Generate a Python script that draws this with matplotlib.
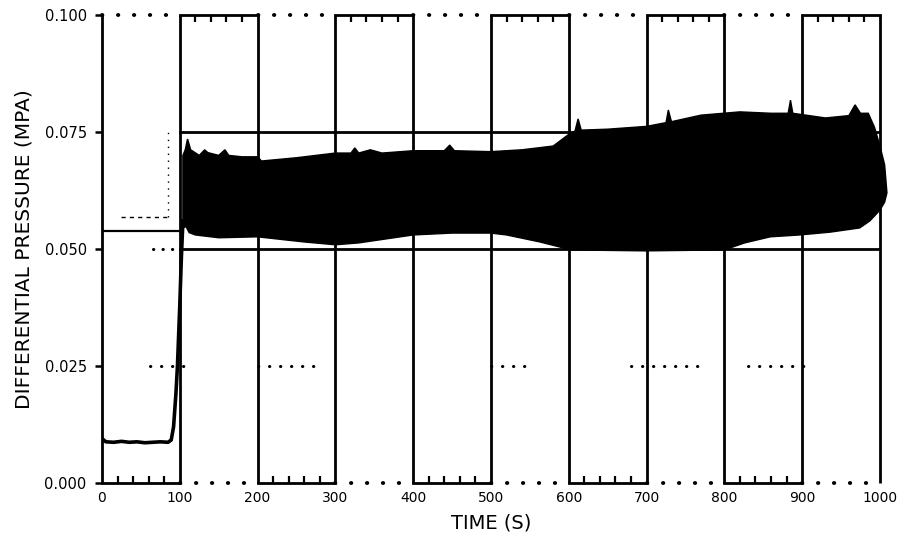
import numpy as np
import matplotlib
matplotlib.use("Agg")
import matplotlib.pyplot as plt

# ---------------- data ----------------
x_ticks = [0, 100, 200, 300, 400, 500, 600, 700, 800, 900, 1000]
x_tick_labels = ["0", "100", "200", "300", "400", "500", "600", "700", "800", "900", "1000"]
y_ticks = [0.0, 0.025, 0.050, 0.075, 0.100]
y_tick_labels = ["0.000", "0.025", "0.050", "0.075", "0.100"]

# initial steady level and rise (s, MPa)
t_start = [0, 5, 15, 25, 35, 45, 55, 65, 75, 85, 89, 92, 95, 97, 100, 102, 104]
p_start = [0.0095, 0.0088, 0.0087, 0.0089, 0.0087, 0.0088, 0.0086, 0.0087, 0.0088,
           0.0087, 0.0092, 0.0120, 0.0190, 0.0250, 0.0380, 0.0480, 0.0560]

# upper envelope of the oscillating band
t_upper = [104, 107, 110, 114, 125, 132, 136, 150, 158, 163, 180, 200, 205, 250, 300,
           320, 325, 330, 345, 360, 400, 440, 447, 453, 500, 540, 580, 600, 608, 612,
           616, 650, 700, 725, 728, 732, 770, 820, 860, 882, 885, 888, 930, 960, 968,
           975, 985, 993, 1000, 1006, 1009]
p_upper = [0.0700, 0.0712, 0.0735, 0.0712, 0.0700, 0.0712, 0.0706, 0.0700, 0.0712, 0.0700,
           0.0697, 0.0697, 0.0688, 0.0695, 0.0705, 0.0705, 0.0716, 0.0705, 0.0712, 0.0705,
           0.0710, 0.0710, 0.0722, 0.0710, 0.0708, 0.0712, 0.0720, 0.0745, 0.0752, 0.0778,
           0.0754, 0.0756, 0.0762, 0.0770, 0.0797, 0.0772, 0.0786, 0.0793, 0.0790, 0.0790,
           0.0818, 0.0790, 0.0780, 0.0785, 0.0808, 0.0790, 0.0790, 0.0760, 0.0720, 0.0680,
           0.0620]

# lower envelope of the oscillating band
t_lower = [104, 108, 112, 120, 150, 200, 260, 300, 330, 400, 450, 500, 520, 563, 589,
           600, 700, 800, 826, 859, 897, 936, 974, 987, 1000, 1006, 1009]
p_lower = [0.0545, 0.0548, 0.0535, 0.0530, 0.0524, 0.0526, 0.0515, 0.0509, 0.0513, 0.0530,
           0.0534, 0.0534, 0.0530, 0.0515, 0.0504, 0.0498, 0.0496, 0.0498, 0.0513, 0.0526,
           0.0530, 0.0536, 0.0545, 0.0560, 0.0583, 0.0600, 0.0620]

# reference lines
ref_levels = [0.050, 0.075]          # solid, from 100 s to 1000 s
left_level = 0.0538                  # solid, from 0 to 100 s
dotted_025 = [(62, 116), (200, 272), (500, 548), (680, 775), (830, 905)]
minor_step = 20

# ---------------- figure ----------------
fig = plt.figure(figsize=(8.97, 5.47), dpi=100)
ax = fig.add_axes([0.1137, 0.117, 0.8673, 0.8556])
ax.set_xlim(0, 1000)
ax.set_ylim(0, 0.1)
for s in ax.spines.values():
    s.set_visible(False)

LW = 2.0
dot_style = dict(color="black", lw=2.8, linestyle=(0, (0.1, 4.0)),
                 dash_capstyle="round", solid_capstyle="round", clip_on=False)

# vertical frame lines
for xv in x_ticks:
    ax.plot([xv, xv], [0, 0.1], color="black", lw=LW, clip_on=False,
            solid_capstyle="butt")

# top and bottom edges: alternate solid / dotted, small ticks on solid parts
for i in range(len(x_ticks) - 1):
    a, b = x_ticks[i], x_ticks[i + 1]
    inner = np.arange(a + minor_step, b, minor_step)
    if i % 2 == 0:
        ax.plot([a, b], [0, 0], color="black", lw=LW, clip_on=False)
        ax.plot(inner, np.zeros_like(inner, dtype=float), linestyle="none",
                marker=2, markersize=5, mew=1.6, color="black", clip_on=False)
        ax.plot([a, b], [0.1, 0.1], **dot_style)
    else:
        ax.plot([a, b], [0.1, 0.1], color="black", lw=LW, clip_on=False)
        ax.plot(inner, np.full(len(inner), 0.1), linestyle="none",
                marker=3, markersize=5, mew=1.6, color="black", clip_on=False)
        ax.plot([a, b], [0, 0], **dot_style)

# horizontal reference lines
for lv in ref_levels:
    ax.plot([x_ticks[1], x_ticks[-1]], [lv, lv], color="black", lw=LW)
ax.plot([x_ticks[0], x_ticks[1]], [left_level, left_level], color="black", lw=1.6)

# faint dotted features
for a, b in dotted_025:
    ax.plot([a, b], [0.025, 0.025], color="black", lw=2.2,
            linestyle=(0, (0.1, 3.5)), dash_capstyle="round")
ax.plot([66, 100], [0.050, 0.050], color="black", lw=2.2,
        linestyle=(0, (0.1, 3.0)), dash_capstyle="round")
ax.plot([25, 85], [0.0568, 0.0568], color="black", lw=1.0, linestyle=(0, (3, 3)))
ax.plot([85, 85], [0.0568, 0.075], color="black", lw=1.0, linestyle=(0, (1, 4)))

# signal
ax.plot(t_start, p_start, color="black", lw=2.6, solid_joinstyle="round")
ax.fill(np.r_[t_upper, t_lower[::-1]], np.r_[p_upper, p_lower[::-1]],
        color="black", lw=1.0, clip_on=False)

# ticks
ax.set_xticks(x_ticks)
ax.set_xticklabels(x_tick_labels, fontsize=10)
ax.set_yticks(y_ticks)
ax.set_yticklabels(y_tick_labels, fontsize=10.5)
ax.tick_params(axis="x", which="major", length=0, pad=6)
ax.tick_params(axis="y", which="major", direction="out", length=5, width=1.8, pad=6)

ax.set_xlabel("TIME (S)", fontsize=14, labelpad=6)
ax.set_ylabel("DIFFERENTIAL PRESSURE (MPA)", fontsize=14.5, labelpad=8)

fig.savefig("out.png", dpi=100)
